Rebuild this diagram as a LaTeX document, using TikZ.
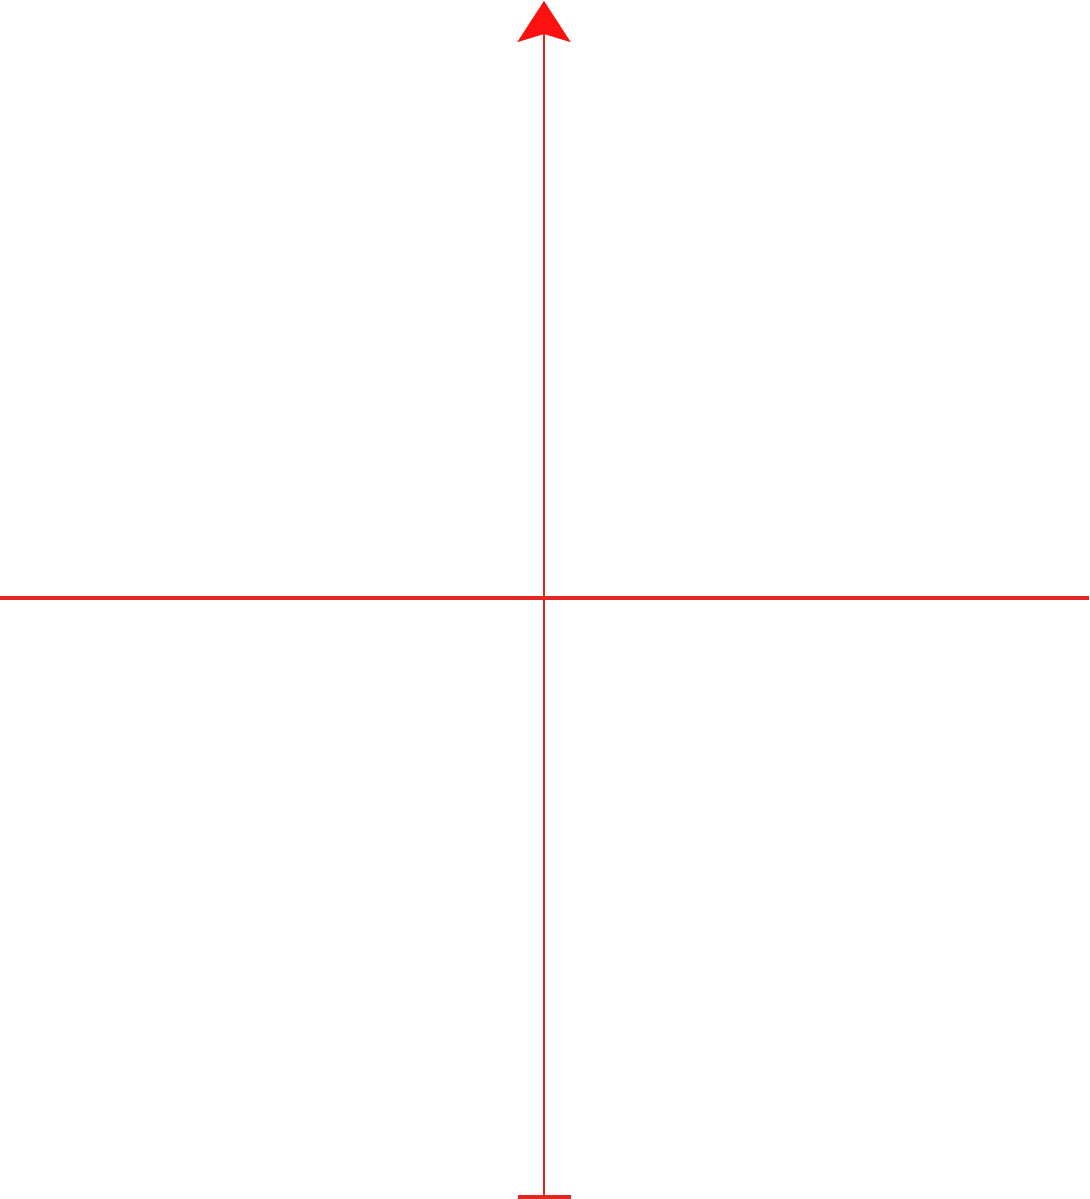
\documentclass[tikz,border=0pt]{standalone}
\usetikzlibrary{arrows.meta}
\definecolor{axisred}{RGB}{226,38,32}
\definecolor{tipred}{RGB}{255,16,16}

\begin{document}
\begin{tikzpicture}[x=1cm, y=1cm, ax/.style={draw=axisred, line width=0.75pt}]
	\useasboundingbox (0,0) rectangle (10.89,11.99);
	\coordinate (l) at (0,6.01);
	\coordinate (r) at (10.89,6.01);
	\coordinate (b) at (5.44,0.0);
	\coordinate (t) at (5.44,11.98);
	\draw[ax, line width=1pt] (l) -- (r);
	\draw[ax, {Bar[width=5.3mm, line width=1.1pt]}-{Stealth[length=4.1mm, width=5.3mm, inset=0.8mm, fill=tipred, color=tipred]}] (b) -- (t);
	\end{tikzpicture}
\end{document}
